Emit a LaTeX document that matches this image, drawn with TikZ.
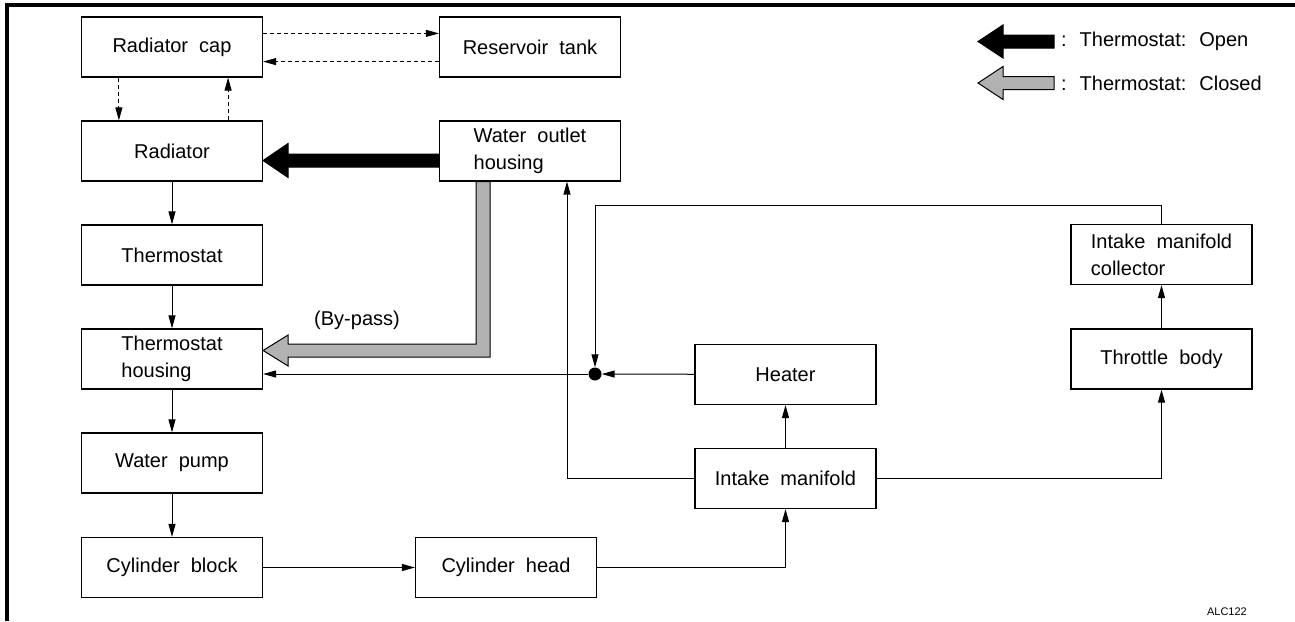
\documentclass[tikz,border=0pt]{standalone}
\usepackage{fontspec}
\setmainfont{Liberation Sans}[WordSpace=2]
\usetikzlibrary{arrows.meta, positioning, calc}

\begin{document}
\begin{tikzpicture}[x=1pt, y=-1pt,
  box/.style={rectangle, draw=black, line width=1.2pt, fill=white,
              minimum width=181pt, minimum height=60pt, inner sep=2pt,
              align=left, font=\fontsize{20}{27}\selectfont},
  arr/.style={-{Triangle[length=13pt, width=7pt]}, line width=1pt},
  dasharr/.style={arr, dash pattern=on 4pt off 3pt},
  fatarr/.style={draw=black, line width=1pt, line join=miter},
  lbl/.style={font=\fontsize{20}{24}\selectfont, inner sep=0pt}
]
\useasboundingbox (0,0) rectangle (1295,621);
\draw[line width=3.5pt, line join=miter] (7,621) -- (7,5) -- (1295,5);

\node[box] (rcap)      at (172,47)      {Radiator cap};
\node[box] (restank)   at (530,47)      {Reservoir tank};
\node[box] (rad)       at (172,151)     {Radiator};
\node[box] (woh)       at (530,151)     {Water outlet\\housing};
\node[box] (thermo)    at (172,255)     {Thermostat};
\node[box] (thhous)    at (172,359)     {Thermostat\\housing};
\node[box] (wpump)     at (172,463)     {Water pump};
\node[box] (cblock)    at (172,567.5)   {Cylinder block};
\node[box] (chead)     at (506,567.5)   {Cylinder head};
\node[box] (heater)    at (785.5,374.5) {Heater};
\node[box] (imani)     at (785.5,478.5) {Intake manifold};
\node[box] (throttle)  at (1161.5,359)  {Throttle body};
\node[box] (collector) at (1161.5,254.5){Intake manifold\\collector};
\node[circle, fill=black, inner sep=0pt, minimum size=13pt] (jn) at (595,374) {};
\coordinate (ctop) at (1161.5,205);

\draw[dasharr] ([yshift=-17pt]rcap.north east) -- ([yshift=-17pt]restank.north west);
\draw[dasharr] ([yshift=16pt]restank.south west) -- ([yshift=16pt]rcap.south east);
\draw[dasharr] ([xshift=38pt]rcap.south west) -- ([xshift=38pt]rad.north west);
\draw[dasharr] ([xshift=-35pt]rad.north east) -- ([xshift=-35pt]rcap.south east);

\draw[arr] (rad) -- (thermo); \draw[arr] (thermo) -- (thhous);
\draw[arr] (thhous) -- (wpump); \draw[arr] (wpump) -- (cblock);
\draw[arr] (cblock) -- (chead);
\draw[arr] (chead.east) -| (imani.south);
\draw[arr] (imani) -- (heater);
\draw[arr] (imani.east) -| (throttle.south);
\draw[arr] (throttle) -- (collector);
\draw[arr] (collector.north) -- (ctop) -| (jn.north);
\draw[arr] (heater) -- (jn);
\draw[arr] (jn.west) -- (jn.west -| thhous.east);
\draw[arr] (imani.west) -| ([xshift=37pt]woh.south);

\coordinate (otip) at ([yshift=-9.5pt]rad.east);
\filldraw[fatarr, fill=black] (otip) -- ++(25,-17) -- ++(0,10.5)
  -- ([yshift=-3pt]woh.west) -- ([yshift=-16pt]woh.west)
  -- ([xshift=25pt,yshift=-6.5pt]otip) -- ++(0,10.5) -- cycle;
\coordinate (btip) at ([yshift=8.5pt]thhous.east);
\filldraw[fatarr, fill=black!30] (btip) -- ++(25,-15.5) -- ++(0,9)
  -| ([xshift=-54pt]woh.south) -- ([xshift=-40pt]woh.south)
  |- ([xshift=25pt,yshift=-6.5pt]btip) -- ++(0,9) -- cycle;
\node[lbl] (bypass) at (357,320) {(By-pass)};

\filldraw[fatarr, fill=black] (978,41.5) -- ++(25,-16.5) -- ++(0,10) -- ++(51,0)
  -- ++(0,13) -- ++(-51,0) -- ++(0,10) -- cycle;
\filldraw[fatarr, fill=black!30] (978,83) -- ++(25,-16.5) -- ++(0,10) -- ++(51,0)
  -- ++(0,13) -- ++(-51,0) -- ++(0,10) -- cycle;
\node[lbl, anchor=west] (lgopen)   at (1061,41.5) {: Thermostat: Open};
\node[lbl, anchor=west] (lgclosed) at (1061,83)   {: Thermostat: Closed};
\node[font=\fontsize{11}{13}\selectfont, anchor=east, inner sep=0pt] (figid) at (1247,612) {ALC122};
\end{tikzpicture}
\end{document}
